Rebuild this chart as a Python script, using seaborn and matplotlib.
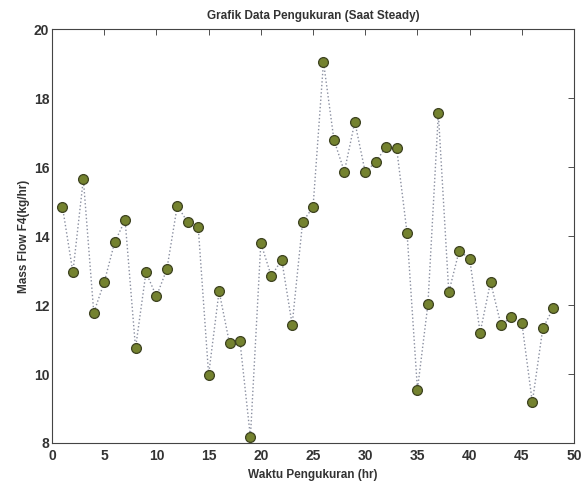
"""
Grafik data pengukuran mass flow F4 saat steady
"""

import matplotlib
matplotlib.use("Agg")
import matplotlib.pyplot as plt
import seaborn as sns
import pandas as pd


# Data
waktu = list(range(1, 49))
mass_flow = [
    14.85, 12.95, 15.65, 11.78, 12.66, 13.82, 14.46, 10.75, 12.95, 12.25,
    13.04, 14.88, 14.40, 14.27, 9.98, 12.40, 10.89, 10.95, 8.17, 13.80,
    12.84, 13.31, 11.43, 14.41, 14.84, 19.05, 16.79, 15.87, 17.31, 15.85,
    16.15, 16.59, 16.56, 14.10, 9.55, 12.02, 17.56, 12.37, 13.58, 13.34,
    11.20, 12.67, 11.42, 11.66, 11.48, 9.18, 11.32, 11.91,
]
x_ticks = [0, 5, 10, 15, 20, 25, 30, 35, 40, 45, 50]
y_ticks = [8, 10, 12, 14, 16, 18, 20]

data = pd.DataFrame({"waktu": waktu, "mass_flow": mass_flow})

sns.set_style("white")
plt.rcParams["font.family"] = ["Liberation Sans", "DejaVu Sans"]

fig = plt.figure(figsize=(5.87, 4.86), dpi=100)
ax = fig.add_axes([0.0886, 0.0885, 0.8894, 0.8515])

sns.lineplot(data=data, x="waktu", y="mass_flow", ax=ax, color="#8a8fa0",
             linestyle=":", linewidth=1.0)
sns.scatterplot(data=data, x="waktu", y="mass_flow", ax=ax, color="#74822f",
                edgecolor="#3d4220", linewidth=0.9, s=50, zorder=3)

ax.set_xlim(0, 50)
ax.set_ylim(8, 20)
ax.set_xticks(x_ticks)
ax.set_yticks(y_ticks)
ax.tick_params(direction="in", top=True, right=True, length=4, width=0.6,
               labelsize=10, colors="#333333", pad=2)
ax.tick_params(axis="x", pad=4)
for lbl in ax.get_xticklabels() + ax.get_yticklabels():
    lbl.set_fontweight("bold")
for side in ax.spines.values():
    side.set_color("#444444")
    side.set_linewidth(0.8)

ax.set_title("Grafik Data Pengukuran (Saat Steady)", fontsize=8.5, pad=7,
             fontweight="bold", color="#333333")
ax.set_xlabel("Waktu Pengukuran (hr)", fontsize=8.5, labelpad=5,
              fontweight="bold", color="#333333")
ax.set_ylabel("Mass Flow F4(kg/hr)", fontsize=8.5, labelpad=3,
              fontweight="bold", color="#333333")

fig.savefig("out.png", dpi=100)
